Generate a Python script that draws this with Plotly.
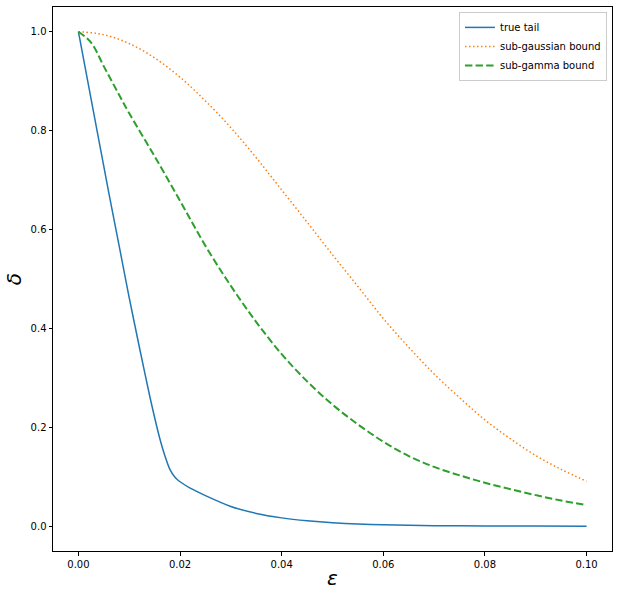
import plotly.graph_objects as go

# epsilon grid and tail values
eps_true = [0.0, 0.002, 0.004, 0.006, 0.008, 0.010, 0.012, 0.014, 0.016, 0.017,
            0.018, 0.019, 0.0195, 0.020, 0.022, 0.025, 0.030, 0.035, 0.040, 0.045,
            0.050, 0.055, 0.060, 0.070, 0.080, 0.090, 0.100]
true_tail = [1.0, 0.891, 0.782, 0.673, 0.568, 0.462, 0.362, 0.265, 0.178, 0.143,
             0.115, 0.099, 0.094, 0.090, 0.077, 0.062, 0.040, 0.026, 0.017, 0.011,
             0.007, 0.0045, 0.003, 0.0013, 0.0006, 0.0003, 0.0001]

eps = [0.0, 0.005, 0.01, 0.015, 0.02, 0.025, 0.03, 0.035, 0.04, 0.045, 0.05,
       0.055, 0.06, 0.065, 0.07, 0.075, 0.08, 0.085, 0.09, 0.095, 0.1]
sub_gaussian = [1.0, 0.994, 0.976, 0.947, 0.908, 0.86, 0.806, 0.745, 0.68, 0.615, 0.549,
                0.485, 0.42, 0.362, 0.308, 0.26, 0.215, 0.177, 0.143, 0.115, 0.091]

eps_gamma = [0.0, 0.0025, 0.005, 0.0075, 0.01, 0.015, 0.02, 0.025, 0.03, 0.035, 0.04,
             0.045, 0.05, 0.055, 0.06, 0.065, 0.07, 0.075, 0.08, 0.085, 0.09, 0.095, 0.1]
sub_gamma = [1.0, 0.978, 0.93, 0.882, 0.835, 0.748, 0.658, 0.567, 0.486, 0.413, 0.348,
             0.293, 0.246, 0.206, 0.171, 0.142, 0.12, 0.103, 0.088, 0.075, 0.063, 0.052, 0.043]

x_ticks = [0.0, 0.02, 0.04, 0.06, 0.08, 0.10]
x_labels = ["0.00", "0.02", "0.04", "0.06", "0.08", "0.10"]
y_ticks = [0.0, 0.2, 0.4, 0.6, 0.8, 1.0]
y_labels = ["0.0", "0.2", "0.4", "0.6", "0.8", "1.0"]

fig = go.Figure()
fig.add_trace(go.Scatter(x=eps_true, y=true_tail, mode="lines", name="true tail",
                         line=dict(color="#1f77b4", width=1.5, shape="spline", smoothing=0.5)))
fig.add_trace(go.Scatter(x=eps, y=sub_gaussian, mode="lines", name="sub-gaussian bound",
                         line=dict(color="#ff7f0e", width=1.5, dash="1.5px,2.5px", shape="spline")))
fig.add_trace(go.Scatter(x=eps_gamma, y=sub_gamma, mode="lines", name="sub-gamma bound",
                         line=dict(color="#2ca02c", width=2, dash="7.4px,3.2px", shape="spline")))

axis_common = dict(showline=True, linecolor="black", linewidth=1, mirror=True,
                   ticks="outside", ticklen=3.5, tickcolor="black", showgrid=False,
                   zeroline=False, automargin=False,
                   tickfont=dict(family="DejaVu Sans", size=10, color="black"))

fig.update_xaxes(range=[-0.005, 0.105], tickvals=x_ticks, ticktext=x_labels,
                 title=dict(text="<i>ε</i>", font=dict(family="DejaVu Sans", size=20, color="black"),
                            standoff=2),
                 **axis_common)
fig.update_yaxes(range=[-0.05, 1.05], tickvals=y_ticks, ticktext=y_labels,
                 title=dict(text="<i>δ</i>", font=dict(family="DejaVu Sans", size=20, color="black"),
                            standoff=3),
                 **axis_common)

fig.update_layout(
    width=618, height=598,
    margin=dict(l=53, r=6, t=7, b=47, autoexpand=False),
    plot_bgcolor="white", paper_bgcolor="white",
    font=dict(family="DejaVu Sans", size=10, color="black"),
    legend=dict(x=0.991, y=0.991, xanchor="right", yanchor="top",
                bgcolor="rgba(255,255,255,0.8)", bordercolor="#cccccc", borderwidth=1,
                font=dict(family="DejaVu Sans", size=10, color="black"),
                itemwidth=30, tracegroupgap=0),
    showlegend=True,
)

# drop the browser's default body margin so the figure sits at the page corner
fig.write_html("out.html", config={"displayModeBar": False},
               post_script="document.body.style.margin='0';")
